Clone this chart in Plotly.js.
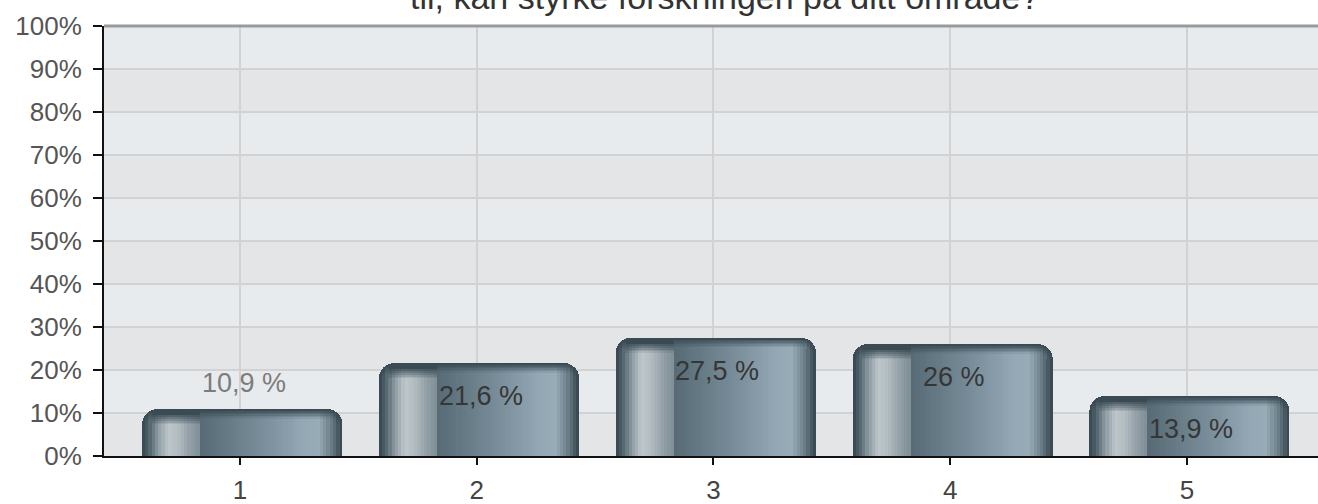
<!DOCTYPE html>
<html>
<head>
<meta charset="utf-8">
<script src="https://cdn.plot.ly/plotly-3.0.1.min.js"></script>
<style>html,body{margin:0;padding:0;background:#fff;}#chart{width:1318px;height:504px;}</style>
</head>
<body>
<div id="chart"></div>
<script>
// ---- data ----
const categories = [1, 2, 3, 4, 5];
const tickLabels = ['1', '2', '3', '4', '5'];
const values = [10.9, 21.6, 27.5, 26, 13.9];
const valueLabels = ['10,9 %', '21,6 %', '27,5 %', '26 %', '13,9 %'];
const titleText = 'til, kan styrke forskningen på ditt område?';

// ---- style ----
const BAR_W = 0.845;
const BAR_SHIFT = 0.01;
const PX_PER_UNIT_X = 237;
const PX_TO_DATA_Y = 100 / 430;
const RADIUS = 15;
const N = 60;
const EDGE_M = 3 / PX_PER_UNIT_X;
const DARK = '#3a4b54';

const stops = [
  [0.00, '#3b4b54'], [0.03, '#4b5d66'], [0.08, '#8e9ca3'], [0.13, '#bdc6cb'],
  [0.18, '#b1bbc0'], [0.24, '#909ea5'], [0.293, '#7e8d94'], [0.297, '#586b76'],
  [0.45, '#687d88'], [0.65, '#7f94a0'], [0.80, '#93a8b4'], [0.88, '#97acb7'],
  [0.94, '#6f828c'], [0.98, '#46575f'], [1.00, '#3b4b54']
];
function hex2rgb(h){return [parseInt(h.slice(1,3),16),parseInt(h.slice(3,5),16),parseInt(h.slice(5,7),16)];}
function profile(f){
  for (let i=0;i<stops.length-1;i++){
    const [f0,c0]=stops[i],[f1,c1]=stops[i+1];
    if (f>=f0 && f<=f1){
      const t=(f-f0)/(f1-f0||1);const a=hex2rgb(c0),b=hex2rgb(c1);
      return a.map((v,k)=>v+(b[k]-v)*t);
    }
  }
  return hex2rgb(stops[stops.length-1][1]);
}
function mix(c, d, t){const b=hex2rgb(d);return c.map((v,k)=>Math.round(v+(b[k]-v)*t));}
function rgb(c){return 'rgb('+c.map(Math.round).join(',')+')';}

const traces = [];
traces.push({
  type:'bar', x:categories, y:values, width:BAR_W, offset:-BAR_W/2 + BAR_SHIFT,
  marker:{color:DARK, cornerradius:RADIUS, line:{width:0}},
  hoverinfo:'skip', showlegend:false
});
const layers = [
  [2, 6, 0.80], [3.5, 8, 0.62], [5, 10, 0.45], [6.5, 12, 0.28], [8, 13.5, 0.12], [9.5, 15, 0.0]
];
const inner = BAR_W - 2*EDGE_M;
const sw = inner / N;
const widthPx = BAR_W * PX_PER_UNIT_X;
layers.forEach(([oBody, oHl, blend], li) => {
  for (let i=0;i<N;i++){
    const f0 = (EDGE_M + i*sw)/BAR_W, f1 = (EDGE_M + (i+1)*sw)/BAR_W;
    const fc = (f0+f1)/2;
    const dPx = Math.min(f0, 1-f1) * widthPx;
    let drop = 0;
    if (dPx < RADIUS){ drop = RADIUS - Math.sqrt(RADIUS*RADIUS - (RADIUS-dPx)*(RADIUS-dPx)); }
    const hl = fc > 0.05 && fc < 0.295;
    let offPx = hl ? oHl : oBody;
    offPx = Math.max(offPx, drop + 1 + li*1.5);
    const col = mix(profile(fc), DARK, blend);
    traces.push({
      type:'bar', x:categories, y:values.map(v=>v - offPx*PX_TO_DATA_Y),
      width: sw*1.08, offset: -BAR_W/2 + BAR_SHIFT + EDGE_M + i*sw,
      marker:{color:rgb(col), line:{width:0}},
      hoverinfo:'skip', showlegend:false
    });
  }
});

const shapes = [];
for (let k=0;k<10;k++){
  shapes.push({type:'rect', xref:'paper', x0:0, x1:1, yref:'y', y0:k*10, y1:(k+1)*10,
    fillcolor: k%2===0 ? '#e4e5e7' : '#e8ebee', line:{width:0}, layer:'below'});
}
shapes.push({type:'line', xref:'paper', x0:0, x1:1, yref:'paper', y0:1, y1:1,
  line:{color:'#9a9a9a', width:3}});

const annotations = values.map((v,i)=>({
  x:categories[i], y:v, xref:'x', yref:'y', text:valueLabels[i], showarrow:false,
  yanchor:'middle', yshift: v < 12 ? 26 : -33, xshift:4,
  font:{family:'Liberation Sans, Arial, sans-serif', size:27, color: v < 12 ? '#7c7c7c' : '#363636'}
}));
annotations.push({
  xref:'paper', yref:'paper', x:0.511, y:1 + 29/430, yanchor:'middle', xanchor:'center',
  text:titleText, showarrow:false,
  font:{family:'Liberation Sans, Arial, sans-serif', size:34, color:'#333'}
});

const layout = {
  width:1318, height:504,
  margin:{l:104, r:0, t:26, b:48, pad:0},
  paper_bgcolor:'#ffffff', plot_bgcolor:'#e6e8eb',
  barmode:'overlay', bargap:0,
  showlegend:false,
  xaxis:{
    range:[0.426, 5.553], tickvals:categories, ticktext:tickLabels,
    showgrid:true, gridcolor:'#d2d2d2', gridwidth:2,
    showline:true, linecolor:'#111', linewidth:2,
    ticks:'outside', ticklen:7, tickwidth:2, tickcolor:'#111',
    tickfont:{family:'Liberation Sans, Arial, sans-serif', size:26, color:'#444'},
    ticklabelstandoff:3, zeroline:false, fixedrange:true
  },
  yaxis:{
    range:[0,100], dtick:10, tick0:0, ticksuffix:'%',
    showgrid:true, gridcolor:'#d2d2d2', gridwidth:2,
    showline:true, linecolor:'#111', linewidth:2,
    ticks:'outside', ticklen:9, tickwidth:2, tickcolor:'#111',
    tickfont:{family:'Liberation Sans, Arial, sans-serif', size:26, color:'#555'},
    ticklabelstandoff:6, zeroline:false, fixedrange:true
  },
  shapes:shapes, annotations:annotations
};
Plotly.newPlot('chart', traces, layout, {staticPlot:true, displayModeBar:false});
</script>
</body>
</html>
